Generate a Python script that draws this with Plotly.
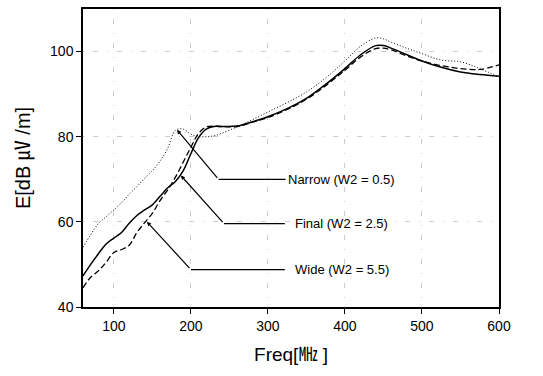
import plotly.graph_objects as go

# Field strength vs. frequency for three W2 widths
freq = [60, 70, 80, 90, 100, 110, 120, 130, 140, 150, 160, 170, 180, 190, 200,
        210, 220, 230, 240, 260, 280, 300, 325, 350, 375, 400, 420, 440, 450,
        460, 480, 500, 525, 550, 575, 600]

e_final = [47.3, 50.0, 52.5, 54.8, 56.2, 57.5, 59.7, 61.5, 62.8, 64.0, 66.0, 68.0,
           69.5, 72.0, 76.0, 79.8, 81.8, 82.4, 82.4, 82.5, 83.5, 84.7, 86.6, 89.0,
           92.3, 96.0, 99.2, 101.4, 101.4, 100.8, 99.3, 97.8, 96.3, 95.2, 94.6, 94.2]

e_wide = [44.5, 47.0, 48.5, 50.5, 52.8, 53.5, 54.5, 57.5, 59.8, 62.0, 65.0, 67.5,
          70.5, 74.0, 77.5, 80.8, 82.3, 82.5, 82.4, 82.4, 83.4, 84.5, 86.4, 88.8,
          92.0, 95.6, 98.7, 100.7, 100.8, 100.4, 99.0, 97.8, 96.7, 96.0, 95.8, 96.9]

e_narrow = [54.0, 57.0, 59.6, 61.2, 62.8, 64.5, 66.5, 68.3, 70.2, 72.0, 74.3, 77.3,
            81.5, 81.8, 80.6, 80.0, 80.0, 80.2, 80.8, 82.3, 84.0, 85.8, 88.0, 90.5,
            93.8, 97.8, 101.2, 103.2, 103.0, 102.2, 100.8, 99.5, 98.0, 97.6, 96.0, 94.0]

x_ticks = [100, 200, 300, 400, 500, 600]
y_ticks = [40, 60, 80, 100]

# Callout labels: text, arrow tip (freq, E), elbow (freq, E), line end / text start
labels = ["Narrow (W2 = 0.5)", "Final (W2 = 2.5)", "Wide (W2 = 5.5)"]
tip_f = [182, 187, 143]
tip_e = [81.6, 70.9, 60.0]
elbow_f = [236, 243, 200]
elbow_e = [70.0, 59.6, 48.8]
end_f = [323, 322, 322]
text_f = [324, 333, 333]

FONT = "Liberation Sans, Arial, sans-serif"
CJK = "Liberation Sans, Noto Sans CJK KR, Noto Sans CJK SC, sans-serif"

fig = go.Figure()

fig.add_trace(go.Scatter(x=freq, y=e_narrow, mode="lines", line_shape="spline",
                         line=dict(color="black", width=1, dash="1px,2px")))
fig.add_trace(go.Scatter(x=freq, y=e_wide, mode="lines", line_shape="spline",
                         line=dict(color="black", width=1.3, dash="6px,3px")))
fig.add_trace(go.Scatter(x=freq, y=e_final, mode="lines", line_shape="spline",
                         line=dict(color="black", width=1.5)))

for i, txt in enumerate(labels):
    # horizontal leader from the label to the elbow
    fig.add_shape(type="line", xref="x", yref="y",
                  x0=end_f[i], y0=elbow_e[i], x1=elbow_f[i], y1=elbow_e[i],
                  line=dict(color="black", width=1.2))
    # diagonal arrow from the elbow to the curve
    fig.add_annotation(x=tip_f[i], y=tip_e[i], ax=elbow_f[i], ay=elbow_e[i],
                       xref="x", yref="y", axref="x", ayref="y",
                       text="", showarrow=True, arrowhead=2, arrowsize=0.7,
                       arrowwidth=1.2, arrowcolor="black")
    fig.add_annotation(x=text_f[i], y=elbow_e[i], xref="x", yref="y",
                       text=txt, showarrow=False, xanchor="left", yanchor="middle",
                       font=dict(family=FONT, size=13, color="black"))

axis_common = dict(showline=True, linecolor="black", linewidth=1.5, mirror=True,
                   ticks="outside", ticklen=5, tickcolor="black", tickwidth=1,
                   showgrid=True, gridcolor="#cccccc", gridwidth=1,
                   griddash="1px,9px,5px,9px",
                   zeroline=False,
                   tickfont=dict(family=FONT, size=14, color="black"))

fig.update_xaxes(range=[60, 600], tickvals=x_ticks,
                 title=dict(text="Freq[㎒ ]", font=dict(family=CJK, size=19, color="black"),
                            standoff=15),
                 **axis_common)
fig.update_yaxes(range=[40, 110], tickvals=y_ticks,
                 title=dict(text="E[dB ㎶ /m]", font=dict(family=CJK, size=20, color="black"),
                            standoff=14),
                 **axis_common)

fig.update_layout(width=543, height=376, showlegend=False,
                  paper_bgcolor="white", plot_bgcolor="white",
                  margin=dict(l=83, r=44, t=7, b=69))

fig.write_html("out.html")
